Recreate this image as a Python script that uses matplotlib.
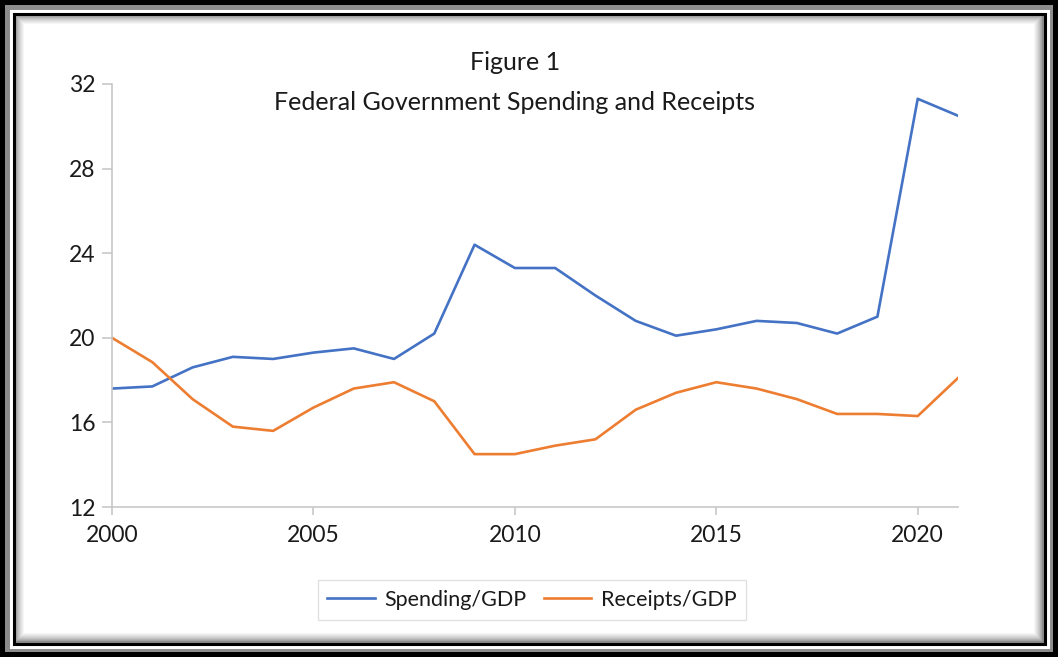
import numpy as np
import matplotlib
matplotlib.use("Agg")
import matplotlib.pyplot as plt
from matplotlib.patches import Rectangle

plt.rcParams['font.family'] = ['Lato', 'DejaVu Sans']

years = list(range(2000, 2022))
spending = [17.6, 17.7, 18.6, 19.1, 19.0, 19.3, 19.5, 19.0, 20.2, 24.4, 23.3,
            23.3, 22.0, 20.8, 20.1, 20.4, 20.8, 20.7, 20.2, 21.0, 31.3, 30.5]
receipts = [20.0, 18.85, 17.1, 15.8, 15.6, 16.7, 17.6, 17.9, 17.0, 14.5, 14.5,
            14.9, 15.2, 16.6, 17.4, 17.9, 17.6, 17.1, 16.4, 16.4, 16.3, 18.1]
y_ticks = [12, 16, 20, 24, 28, 32]
x_ticks = [2000, 2005, 2010, 2015, 2020]

W, H = 1058, 657
fig = plt.figure(figsize=(W / 100, H / 100), dpi=100)
fig.patch.set_facecolor('white')

# frame: black outer band, white gap, thin black line, soft inner shadow
bg = fig.add_axes([0, 0, 1, 1], zorder=-5)
bg.set_xlim(0, W)
bg.set_ylim(H, 0)
bg.axis('off')
yy, xx = np.mgrid[0:H, 0:W]
d = np.minimum.reduce([xx - 15, W - 16 - xx, yy - 15, H - 16 - yy]).astype(float)
shade = np.clip(d / 9.0, 0, 1) ** 0.7
img = 0.55 + 0.45 * shade
bg.imshow(img, cmap='gray', vmin=0, vmax=1, extent=(0, W, H, 0), interpolation='bilinear')
bg.add_patch(Rectangle((0, 0), W, H, fill=False, edgecolor='black', linewidth=7.2))
bg.add_patch(Rectangle((10.5, 10.5), W - 21, H - 21, fill=False, edgecolor='white', linewidth=2.2))
bg.add_patch(Rectangle((13.5, 13.5), W - 27, H - 27, fill=False, edgecolor='black', linewidth=2.2))

ax = fig.add_axes([112 / W, 1 - 507 / H, (958 - 112) / W, (507 - 84) / H])
ax.set_facecolor('none')
ax.plot(years, spending, color='#4472C4', linewidth=1.9, label='Spending/GDP')
ax.plot(years, receipts, color='#ED7D31', linewidth=1.9, label='Receipts/GDP')

ax.set_xlim(2000, 2021)
ax.set_ylim(12, 32)
ax.set_xticks(x_ticks)
ax.set_yticks(y_ticks)
for side in ['top', 'right']:
    ax.spines[side].set_visible(False)
for side in ['left', 'bottom']:
    ax.spines[side].set_color('#C8C8C8')
    ax.spines[side].set_linewidth(1.2)
ax.tick_params(axis='both', colors='#C8C8C8', labelcolor='#1a1a1a', labelsize=16.5, width=1.2)
ax.tick_params(axis='y', length=7, pad=5)
ax.tick_params(axis='x', length=6, pad=7)

fig.text(515 / W, 1 - 62 / H, 'Figure 1', ha='center', va='center', fontsize=18, color='#1a1a1a')
fig.text(515 / W, 1 - 103 / H, 'Federal Government Spending and Receipts', ha='center', va='center',
         fontsize=18, color='#1a1a1a')

leg = fig.legend(loc='center', bbox_to_anchor=(532 / W, 1 - 600 / H), ncol=2, fontsize=15.5,
                 frameon=True, fancybox=False, handlelength=2.2, columnspacing=0.8,
                 borderpad=0.45, handletextpad=0.45, borderaxespad=0)
leg.get_frame().set_edgecolor('#D9D9D9')
leg.get_frame().set_linewidth(1.0)
for t in leg.get_texts():
    t.set_color('#1a1a1a')

fig.savefig('out.png', dpi=100)
